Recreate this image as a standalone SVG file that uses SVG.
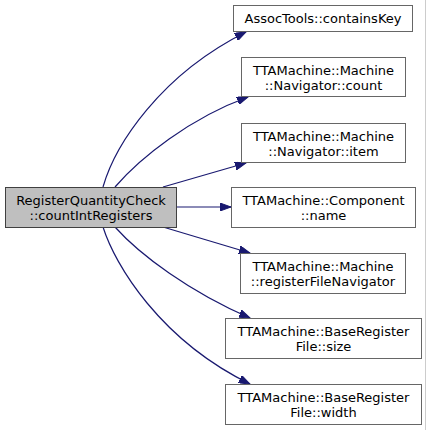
<svg xmlns="http://www.w3.org/2000/svg" width="427" height="430" viewBox="0 0 427 430">
<style>
  .node rect { fill: #ffffff; stroke: #666666; stroke-width: 1; }
  .node.main rect { fill: #bfbfbf; stroke: #404040; }
  .node text { font-family: "DejaVu Sans", sans-serif; font-size: 13px; fill: #000000; text-anchor: middle; }
  .edges path { fill: none; stroke: #191970; stroke-width: 1.2; marker-end: url(#arrow); }
</style>
<defs>
  <marker id="arrow" markerUnits="userSpaceOnUse" markerWidth="12" markerHeight="8" refX="11" refY="4" orient="auto">
    <path d="M0,0 L11,4 L0,8 z" fill="#191970" stroke="#191970" stroke-width="1"/>
  </marker>
</defs>
<rect x="0" y="0" width="427" height="430" fill="#ffffff"/>
<line x1="425.5" y1="0" x2="425.5" y2="430" stroke="#cccccc" stroke-width="1"/>
<g class="edges">
  <path d="M103,187 C115,145 160,75 246,32"/>
  <path d="M115,187 C140,158 190,118 248,97"/>
  <path d="M163,187 L246,163"/>
  <path d="M177,207 L231,207"/>
  <path d="M163,227 L250,253"/>
  <path d="M115,227 C140,255 190,292 250,318"/>
  <path d="M103,227 C115,265 160,340 250,384"/>
</g>
<g id="main" class="node main">
  <rect x="5.5" y="187.5" width="171" height="40"/>
  <text x="91" y="204.5">RegisterQuantityCheck</text>
  <text x="91" y="219.5">::countIntRegisters</text>
</g>
<g id="n1" class="node">
  <rect x="233.5" y="5.5" width="179" height="26"/>
  <text x="323" y="23">AssocTools::containsKey</text>
</g>
<g id="n2" class="node">
  <rect x="241.5" y="57.5" width="164" height="39"/>
  <text x="323.5" y="74.5">TTAMachine::Machine</text>
  <text x="323.5" y="89.5">::Navigator::count</text>
</g>
<g id="n3" class="node">
  <rect x="241.5" y="123.5" width="164" height="39"/>
  <text x="323.5" y="140.5">TTAMachine::Machine</text>
  <text x="323.5" y="155.5">::Navigator::item</text>
</g>
<g id="n4" class="node">
  <rect x="231.5" y="187.5" width="184" height="40"/>
  <text x="323.5" y="204.5">TTAMachine::Component</text>
  <text x="323.5" y="219.5">::name</text>
</g>
<g id="n5" class="node">
  <rect x="240.5" y="253.5" width="165" height="40"/>
  <text x="323" y="270.5">TTAMachine::Machine</text>
  <text x="323" y="285.5">::registerFileNavigator</text>
</g>
<g id="n6" class="node">
  <rect x="225.5" y="318.5" width="196" height="40"/>
  <text x="323.5" y="335.5">TTAMachine::BaseRegister</text>
  <text x="323.5" y="350.5">File::size</text>
</g>
<g id="n7" class="node">
  <rect x="225.5" y="384.5" width="196" height="40"/>
  <text x="323.5" y="401.5">TTAMachine::BaseRegister</text>
  <text x="323.5" y="416.5">File::width</text>
</g>
</svg>
